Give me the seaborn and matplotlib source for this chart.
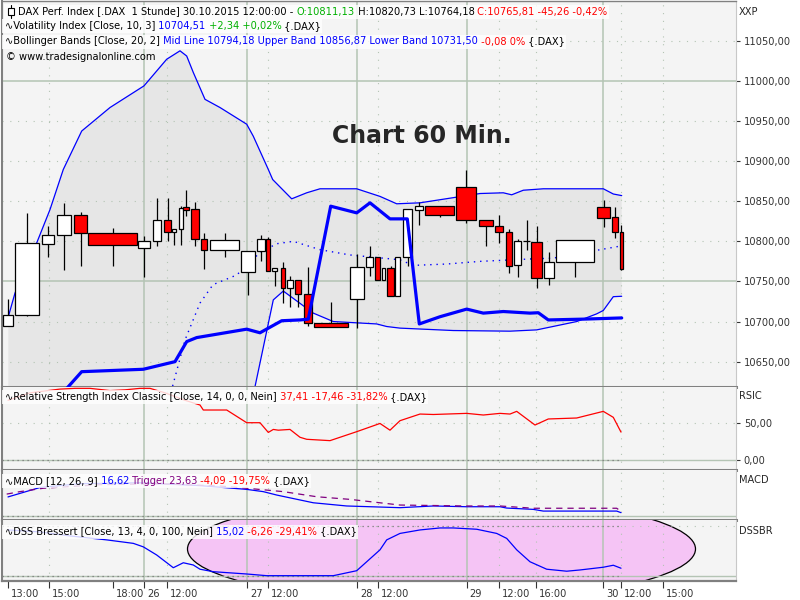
import matplotlib
matplotlib.use("Agg")
import numpy as np
import matplotlib.pyplot as plt
import seaborn as sns
from matplotlib.patches import Ellipse, Rectangle
from matplotlib.lines import Line2D
from matplotlib.transforms import ScaledTranslation

W, H = 800, 600
FS = 7.1

# --- candles (x = bar left/right edge on the session axis) ---
bar_l = [3.3, 15.3, 42.3, 57.3, 74.3, 88.3, 138.3, 153.3, 164.3, 172.3, 178.7, 183, 191.3, 201.3, 210.3,
         240.7, 256.7, 266.3, 271.7, 280.7, 287.3, 295.3, 304.3, 314.3, 350.3, 366.3, 375.3, 382, 387.3, 395.3,
         402.7, 415.3, 425.3, 456.3, 479.3, 495.3, 505.7, 514.3, 523.3, 531.3, 544.3, 556.3, 596.7, 612.3, 620]
bar_r = [13.3, 39.3, 54.3, 71.3, 86.7, 136.7, 150.3, 161.3, 170.7, 176.3, 182.7, 189.3, 199.3, 207.3, 238.7,
         254.7, 264.7, 270.3, 277.3, 284.7, 293.3, 301.3, 312.3, 348.3, 364.3, 372.7, 379.7, 384.7, 393.7, 399.7,
         412.3, 423.3, 453.7, 476.3, 493.3, 503.3, 511.7, 520.7, 530, 541.7, 554.3, 594.3, 610.3, 618.3, 622.7]
opens = [10694.6, 10708, 10797, 10808, 10833.4, 10810.5, 10792, 10800.5, 10826.7, 10811.7, 10815, 10843, 10840.5, 10803, 10789,
         10761.7, 10788.4, 10803, 10763, 10766.7, 10741.7, 10751.7, 10734, 10698, 10728, 10768, 10780.5, 10751.7, 10766.7, 10732,
         10781, 10839, 10844, 10868, 10826.7, 10819, 10811.7, 10770.5, 10801, 10799.6, 10754, 10774.2, 10843, 10830.5, 10811.1]
highs = [10728, 10835.5, 10819.6, 10848, 10837, 10817, 10807, 10854.6, 10854.6, 10815, 10844.6, 10864, 10848.7, 10811, 10810.5,
         10788.4, 10808, 10806, 10766.7, 10774.6, 10757, 10751.7, 10768, 10724, 10784.6, 10794.6, 10780.5, 10766.7, 10769.6, 10781,
         10840.5, 10849.6, 10844, 10888.4, 10826.7, 10833, 10815.5, 10803, 10827, 10819.6, 10787, 10801.7, 10852, 10843, 10820.7]
lows = [10694, 10707, 10781, 10763.7, 10768.8, 10769.6, 10756, 10794.6, 10800.5, 10795.5, 10796, 10831, 10793.7, 10765.5, 10781,
        10732.5, 10775.9, 10763, 10743.7, 10723, 10718.7, 10718.7, 10695, 10693, 10691.7, 10757, 10751.7, 10751.7, 10732, 10732,
        10768.8, 10820.5, 10830, 10823, 10793.7, 10798, 10761, 10756, 10788.8, 10741.7, 10745, 10755, 10818, 10804, 10764.2]
closes = [10708, 10798, 10808, 10833, 10810.5, 10795.5, 10800.5, 10826.7, 10811.7, 10815, 10841.7, 10839.6, 10803, 10789, 10801.7,
          10788.4, 10803, 10763, 10766.7, 10741.7, 10751.7, 10734, 10698, 10693, 10768, 10780.5, 10751.7, 10766.7, 10732, 10781,
          10840.5, 10844, 10833, 10826.7, 10819, 10811.7, 10769, 10801, 10801, 10754, 10774.2, 10801.7, 10829, 10811.7, 10765.8]

# --- Bollinger bands ---
upper_x = [8.3, 15, 36.7, 50, 63.3, 81.7, 110, 144, 166.7, 180, 186.7, 193.3, 205, 220, 246.7, 253.3, 268.3, 272.7,
           291.7, 306.7, 320, 356.7, 380, 396.7, 420, 480, 503.3, 511.7, 523.3, 543.3, 603.3, 613.3, 621.7]
upper_v = [10706, 10735.5, 10798, 10839.6, 10889.6, 10937.5, 10966.8, 10993.8, 11027, 11037.5, 11031, 11010.5, 10977,
           10966.8, 10946, 10931, 10889.6, 10877, 10853, 10860.5, 10865.5, 10865.5, 10856, 10846.8, 10848, 10859.6, 10860.5,
           10858, 10863.7, 10865.5, 10865.5, 10859, 10857]
mid_x = [171, 185, 200, 213, 236.7, 260, 276.7, 293.3, 320, 350, 400, 413.3, 446.7, 480, 530, 553, 596.7, 620]
mid_v = [10612, 10677, 10723, 10746, 10758, 10786, 10797, 10800, 10789.6, 10783, 10777, 10770, 10771.7, 10775, 10778,
         10779, 10788.8, 10794]
lower_x = [8.3, 100, 171, 240, 250, 255, 273.3, 283.3, 313.3, 333.3, 376.7, 386.7, 400, 453.3, 510, 536.7, 576.7,
           596.7, 603.3, 613.3, 621.7]
lower_v = [10520, 10480, 10500, 10560, 10600, 10618.8, 10727, 10738, 10710.5, 10700, 10697, 10693.8, 10691.8, 10688.8,
           10688, 10689.6, 10700, 10709.6, 10713.8, 10731, 10731.5]

# --- Volatility index (thick line) ---
vol_x = [62, 81.7, 143.3, 175, 186.7, 196.7, 246.7, 260, 281.7, 300, 308.3, 330.7, 356.7, 370, 390, 407.3, 419.3, 440,
         466.7, 483.3, 503.3, 530, 538.3, 548.3, 583.3, 621.7]
vol_v = [10610, 10637.5, 10640.5, 10650, 10675, 10680, 10690.5, 10686, 10701, 10702, 10703, 10843.8, 10835.5, 10848,
         10828, 10828, 10697, 10706, 10715.5, 10710.5, 10712.5, 10710.5, 10711, 10702, 10703, 10704.5]

# --- RSI ---
rsi_x = [8, 30, 60, 75, 90, 110, 125, 140, 150, 165, 185, 200, 203.3, 226.7, 246.7, 260, 268.3, 273.3, 278.3, 290, 300,
         306.7, 330, 356.7, 380, 390, 400, 420, 433.3, 466.7, 483.3, 500, 510, 516.7, 535, 548.3, 576.7, 603.3, 613.3, 621]
rsi_v = [80, 90, 95, 96, 96, 93, 94, 96, 96, 90, 80, 73.7, 67, 67, 50, 50, 37, 41, 40, 41, 30.5, 27.8, 26, 38, 49, 40,
         52.7, 61.6, 61, 62.5, 60.3, 62.5, 61.6, 65.2, 46.9, 55, 56.3, 65.2, 57.2, 37.4]

# --- MACD ---
macd_x = [8, 40, 80, 140, 200, 246.7, 263.3, 276.7, 313.3, 346.7, 400, 433.3, 466.7, 500, 506.7, 533.3, 543.3, 616.7, 621]
macd_v = [100, 150, 170, 175, 160, 140, 128, 110, 69, 52, 43, 52, 48, 48, 41, 34, 25, 25, 16.6]
trig_x = [6.7, 20, 43.3, 100, 160, 220, 246.7, 283.3, 316.7, 350, 400, 466.7, 500, 533.3, 616.7, 621]
trig_v = [115, 128, 146, 165, 170, 158, 146, 128, 101, 87, 57, 52, 52, 40, 40, 23.6]

# --- DSS Bressert ---
dss_x = [8, 40, 70, 106.7, 133.3, 143.3, 156.7, 173.3, 183.3, 193.3, 200, 213.3, 246.7, 266.7, 333.3, 356.7, 366.7, 380,
         386.7, 400, 420, 440, 453.3, 476.7, 496.7, 506.7, 516.7, 530, 546.7, 566.7, 580, 603.3, 613.3, 621]
dss_v = [92, 88, 80, 72, 65, 58, 41.6, 16, 26, 21.5, 13, 8, 3.4, 0, 0, 10, 28, 52, 72, 85, 92, 96, 96, 93.4, 85, 75, 52,
         28, 13, 9, 11.5, 17, 21, 15]

# --- time axis ---
tick_pos = [8.3, 49, 112.7, 144, 167, 247, 268, 357, 378, 466.7, 499, 536, 603, 621, 663]
tick_lab = ["13:00", "15:00", "18:00", "26", "12:00", "27", "12:00", "28", "12:00", "29", "12:00", "16:00", "30", "12:00", "15:00"]
day_lines = [144, 247, 357, 466.7, 603]
hour_lines = [49, 167, 268, 378, 499, 536, 621, 663]
price_ticks = [10650, 10700, 10750, 10800, 10850, 10900, 10950, 11000, 11050]
price_solid = [10750, 11000]

sns.set_style("white")
plt.rcParams["font.family"] = ["DejaVu Sans"]

PANEL = "#f4f4f4"
BAND = "#e6e6e6"
GRID = "#b4c4b4"
SEP = "#808080"
XMIN, XMAX = 2, 735.5
DATA_END = 622


def px_box(top, bottom):
    return [XMIN / W, 1 - bottom / H, (XMAX - XMIN) / W, (bottom - top) / H]


fig = plt.figure(figsize=(8, 6), dpi=100, facecolor="white")
ax = fig.add_axes(px_box(1, 387))
ax_rsi = fig.add_axes(px_box(387, 470))
ax_macd = fig.add_axes(px_box(470, 520))
ax_dss = fig.add_axes(px_box(520, 581))

for a in (ax, ax_rsi, ax_macd, ax_dss):
    a.set_facecolor(PANEL)
    a.set_xlim(XMIN, XMAX)
    for x in day_lines:
        a.axvline(x, color=GRID, lw=1.1, zorder=1)
    for x in hour_lines:
        a.axvline(x, color=GRID, lw=0.8, ls=(0, (1, 6)), zorder=1)
    a.spines["left"].set_color(SEP)
    a.spines["left"].set_linewidth(1.5)
    a.spines["right"].set_color("#c8c8c8")
    a.spines["right"].set_linewidth(0.8)
    a.spines["bottom"].set_color(SEP)
    a.spines["bottom"].set_linewidth(2.2)
    a.spines["top"].set_visible(False)
    a.yaxis.tick_right()
    a.tick_params(axis="y", direction="out", length=3, width=0.8, colors="#333333", pad=3, labelsize=FS)
    a.tick_params(axis="x", bottom=False, labelbottom=False)

# ---- main price panel ----
ax.set_ylim(10618.4, 11099.6)
ax.spines["top"].set_visible(True)
ax.spines["top"].set_color(SEP)
ax.spines["top"].set_linewidth(1)
for y in price_ticks:
    if y in price_solid:
        ax.axhline(y, color=GRID, lw=1.1, zorder=1)
    else:
        ax.axhline(y, color=GRID, lw=0.8, ls=(0, (1, 6)), zorder=1)
ax.set_yticks(price_ticks)
ax.set_yticklabels([f"{v:.2f}".replace(".", ",") for v in price_ticks])

band_x = np.concatenate([upper_x, lower_x[::-1]])
band_y = np.concatenate([upper_v, lower_v[::-1]])
ax.fill(band_x, band_y, color=BAND, lw=0, zorder=0.5)

sns.lineplot(x=upper_x, y=upper_v, ax=ax, color="#0000ff", lw=0.9, sort=False, estimator=None, zorder=2)
sns.lineplot(x=lower_x, y=lower_v, ax=ax, color="#0000ff", lw=0.9, sort=False, estimator=None, zorder=2)
sns.lineplot(x=mid_x, y=mid_v, ax=ax, color="#0000ff", lw=1.0, ls=(0, (1, 3.5)), sort=False, estimator=None, zorder=2)

cx = (np.array(bar_l) + np.array(bar_r)) / 2
ax.vlines(cx, lows, highs, color="black", lw=0.9, zorder=3)
body_col = ["white" if c >= o else "#ff0000" for o, c in zip(opens, closes)]
ax.bar(bar_l, np.array(closes) - np.array(opens), width=np.array(bar_r) - np.array(bar_l),
       bottom=opens, align="edge", color=body_col, edgecolor="black", lw=0.9, zorder=4)

sns.lineplot(x=vol_x, y=vol_v, ax=ax, color="#0000ff", lw=2.3, sort=False, estimator=None, zorder=5)

ax.text(422, 10931, "Chart 60 Min.", fontsize=17, fontweight="bold", ha="center", va="center", zorder=6)

# ---- RSI ----
ax_rsi.set_ylim(-13.3, 97.8)
ax_rsi.axhline(50, color=GRID, lw=0.8, ls=(0, (1, 6)), zorder=1)
ax_rsi.axhline(0, color=GRID, lw=1.0, zorder=1)
ax_rsi.hlines(0, XMIN, DATA_END, color="#777777", lw=0.9, ls=(0, (1, 3)), zorder=1.5)
sns.lineplot(x=rsi_x, y=rsi_v, ax=ax_rsi, color="#ff0000", lw=0.9, sort=False, estimator=None, zorder=3)
ax_rsi.set_yticks([0, 50])
ax_rsi.set_yticklabels(["0,00", "50,00"])

# ---- MACD ----
ax_macd.set_ylim(-22.3, 242.7)
ax_macd.axhline(0, color=GRID, lw=1.0, zorder=1)
ax_macd.hlines(0, XMIN, DATA_END, color="#777777", lw=0.9, ls=(0, (1, 3)), zorder=1.5)
sns.lineplot(x=macd_x, y=macd_v, ax=ax_macd, color="#0000ff", lw=0.9, sort=False, estimator=None, zorder=3)
sns.lineplot(x=trig_x, y=trig_v, ax=ax_macd, color="#800080", lw=0.9, ls=(0, (5, 4)), sort=False, estimator=None, zorder=3)
ax_macd.set_yticks([])

# ---- DSS ----
ax_dss.set_ylim(-10.7, 112)
ell = Ellipse((441.5, 53.7), 508, 213, facecolor="#f5c4f5", edgecolor="black", lw=0.9, zorder=0.6)
ax_dss.add_patch(ell)
ax_dss.axhline(100, color=GRID, lw=0.8, ls=(0, (1, 6)), zorder=1)
ax_dss.axhline(0, color=GRID, lw=1.0, zorder=1)
ax_dss.hlines([0, 100], XMIN, DATA_END, color="#777777", lw=0.9, ls=(0, (1, 3)), zorder=1.5)
sns.lineplot(x=dss_x, y=dss_v, ax=ax_dss, color="#0000ff", lw=0.9, sort=False, estimator=None, zorder=3)
ax_dss.set_yticks([])
ax_dss.spines["bottom"].set_linewidth(1.6)

ax_dss.tick_params(axis="x", bottom=True, labelbottom=True, direction="out", length=5, width=0.8,
                   colors="#333333", labelsize=FS, pad=1)
ax_dss.set_xticks(tick_pos)
ax_dss.set_xticklabels(tick_lab)
offset = ScaledTranslation(3 / 100, 0, fig.dpi_scale_trans)
for lab in ax_dss.get_xticklabels():
    lab.set_horizontalalignment("left")
    lab.set_transform(lab.get_transform() + offset)

for a in (ax, ax_rsi, ax_macd, ax_dss):
    a.set_xlabel("")
    a.set_ylabel("")

# ---- panel names on the right ----
for name, ypx in [("XXP", 12), ("RSIC", 396), ("MACD", 480), ("DSSBR", 531)]:
    fig.text(739 / W, 1 - ypx / H, name, fontsize=FS, va="center", ha="left")

# ---- coloured header lines ----
renderer = fig.canvas.get_renderer()


def header(xpx, ypx, pieces, box=True):
    x = xpx
    for s, c in pieces:
        t = fig.text(x / W, 1 - ypx / H, s, color=c, fontsize=FS, va="center", ha="left", zorder=6)
        x += t.get_window_extent(renderer=renderer).width
    if box:
        fig.add_artist(Rectangle(((xpx - 3) / W, 1 - (ypx + 7) / H), (x - xpx + 4) / W, 14 / H,
                                 transform=fig.transFigure, facecolor="white", edgecolor="none",
                                 alpha=0.82, zorder=5))


BLK, GRN, RED, BLU, PUR = "black", "#00b000", "#ff0000", "#0000ff", "#800080"
header(18, 11.5, [("DAX Perf. Index [.DAX  1 Stunde] 30.10.2015 12:00:00 - ", BLK), ("O:10811,13", GRN),
                  (" H:10820,73 L:10764,18", BLK), (" C:10765,81 -45,26 -0,42%", RED)])
fig.add_artist(Rectangle((4 / W, 1 - 19 / H), 14 / W, 15 / H, transform=fig.transFigure,
                         facecolor="white", edgecolor="none", alpha=0.82, zorder=5))
fig.add_artist(Line2D([11 / W, 11 / W], [1 - 18 / H, 1 - 5 / H], transform=fig.transFigure, color="black", lw=0.8, zorder=6))
fig.add_artist(Rectangle((8 / W, 1 - 15 / H), 6 / W, 7 / H, transform=fig.transFigure,
                         facecolor="white", edgecolor="black", lw=0.8, zorder=7))
header(5, 26, [("∿Volatility Index [Close, 10, 3]", BLK), (" 10704,51", BLU), (" +2,34 +0,02%", GRN), (" {.DAX}", BLK)])
header(5, 41.5, [("∿Bollinger Bands [Close, 20, 2]", BLK),
                 (" Mid Line 10794,18 Upper Band 10856,87 Lower Band 10731,50", BLU),
                 (" -0,08 0%", RED), (" {.DAX}", BLK)])
header(6, 57, [("© www.tradesignalonline.com", BLK)], box=False)
header(5, 397, [("∿Relative Strength Index Classic [Close, 14, 0, 0, Nein]", BLK),
                (" 37,41 -17,46 -31,82%", RED), (" {.DAX}", BLK)])
header(5, 481, [("∿MACD [12, 26, 9]", BLK), (" 16,62", BLU), (" Trigger 23,63", PUR),
                (" -4,09 -19,75%", RED), (" {.DAX}", BLK)])
header(5, 531.5, [("∿DSS Bressert [Close, 13, 4, 0, 100, Nein]", BLK), (" 15,02", BLU),
                  (" -6,26 -29,41%", RED), (" {.DAX}", BLK)])

fig.savefig("out.png", dpi=100, facecolor="white")
